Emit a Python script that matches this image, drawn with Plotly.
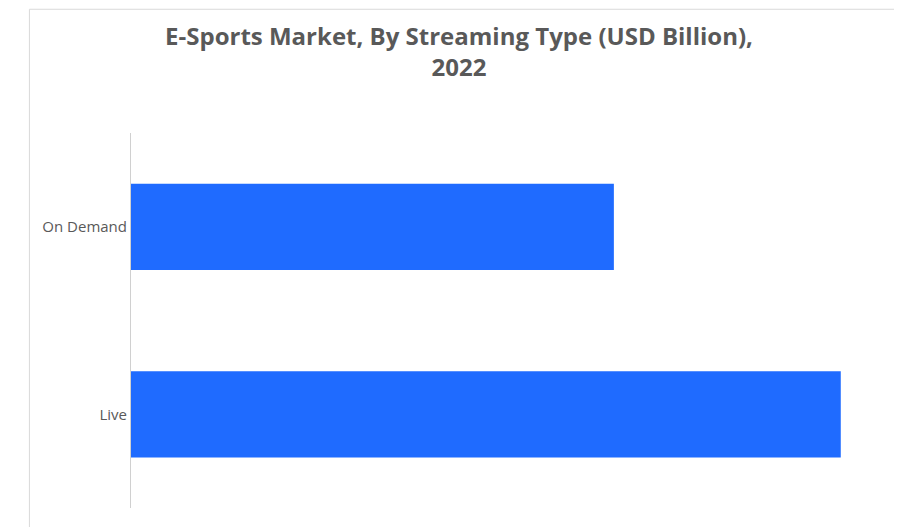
import plotly.graph_objects as go

categories = ["Live", "On Demand"]
values = [1.22, 0.83]

fig = go.Figure(go.Bar(
    y=categories, x=values, orientation="h",
    marker=dict(color="#1f6bff", line=dict(width=0)),
    width=0.46,
))
fig.update_layout(
    width=902, height=527,
    paper_bgcolor="white", plot_bgcolor="white",
    margin=dict(l=123, r=32, t=125, b=27),
    title=dict(text="<b>E-Sports Market, By Streaming Type (USD Billion),<br>2022</b>",
               x=0.5, xanchor="center", y=0.93, yanchor="top",
               font=dict(family="Open Sans, Liberation Sans", size=24, color="#595959")),
    xaxis=dict(range=[0, 1.284], showticklabels=False, showgrid=False, zeroline=False, showline=False),
    yaxis=dict(showline=True, linecolor="#d0d0d0", linewidth=1, showgrid=False,
               ticks="", ticklen=0, range=[-0.5, 1.5],
               tickfont=dict(family="Open Sans, Liberation Sans", size=15, color="#595959")),
    bargap=0.54,
    showlegend=False,
    shapes=[dict(type="rect", xref="paper", yref="paper", x0=-0.136, x1=1.035, y0=-0.07, y1=1.33,
                 line=dict(color="#d9d9d9", width=1))],
)
fig.write_html("out.html")
